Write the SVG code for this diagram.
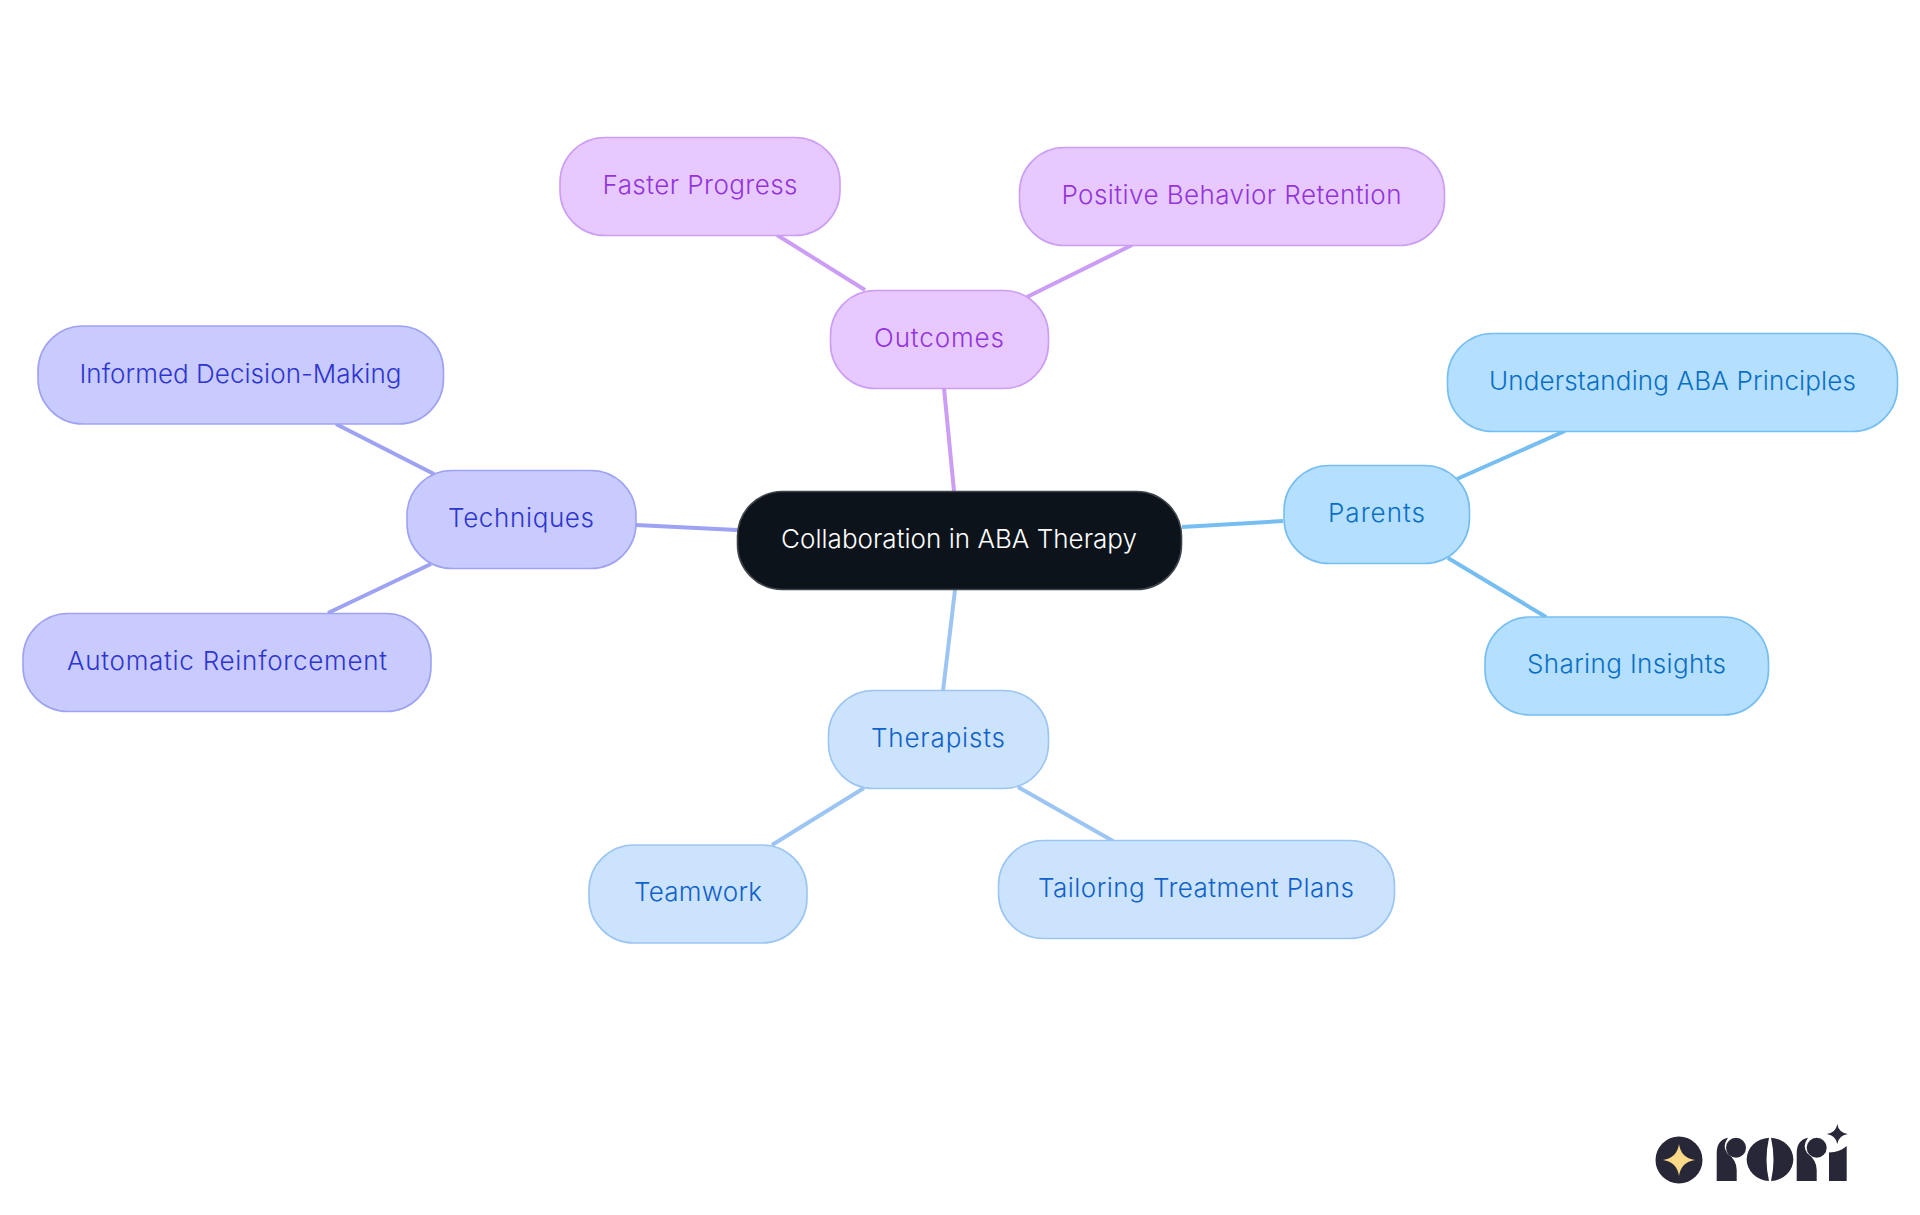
<svg xmlns="http://www.w3.org/2000/svg" width="1920" height="1215" viewBox="0 0 1920 1215">
<style>
text{font-family:"Inter","Liberation Sans",sans-serif;font-size:26px;font-weight:350;text-anchor:middle}
.c{fill:none;stroke-width:4}
rect.n{stroke-width:1.600}
rect.pu{fill:#e8c9ff;stroke:#cb9df5}text.pu{fill:#9333dc}
rect.bl{fill:#b4dfff;stroke:#76bef2}text.bl{fill:#0a6fc4}
rect.lb{fill:#cce3fd;stroke:#9cc5f3}text.lb{fill:#0f62c9}
rect.in{fill:#c9cbff;stroke:#9ea2f3}text.in{fill:#2e35d0}
</style>
<rect width="1920" height="1215" fill="#fff"/>
<g id="connectors">
<path class="c" stroke="#cb9df5" d="M954 491L944 388M865 290L777 235M1027 297L1132 245"/>
<path class="c" stroke="#76bef2" d="M1182 527L1283 521M1457 479L1565 431M1448 558L1546 617"/>
<path class="c" stroke="#9cc5f3" d="M955 590L943 691M864 788L772 845M1018 787L1113 841"/>
<path class="c" stroke="#9ea2f3" d="M737 530L636 525M434 474L336 424M431 564L328 613"/>
</g>
<g id="center"><rect x="737.500" y="491.500" width="444" height="98" rx="45" fill="#0c131b" stroke="#3f444a" stroke-width="1.600"/><text x="959" y="548" fill="#fff" textLength="356">Collaboration in ABA Therapy</text></g>
<g id="outcomes"><rect class="n pu" x="830.500" y="290.500" width="218" height="98" rx="45"/><text class="pu" x="939" y="346.500" textLength="130">Outcomes</text></g>
<g id="faster"><rect class="n pu" x="560" y="137.500" width="280" height="98" rx="45"/><text class="pu" x="700" y="193.500" textLength="195">Faster Progress</text></g>
<g id="positive"><rect class="n pu" x="1019.500" y="147.500" width="425" height="98" rx="45"/><text class="pu" x="1231.500" y="204" textLength="340">Positive Behavior Retention</text></g>
<g id="parents"><rect class="n bl" x="1284" y="465.500" width="185.500" height="98" rx="45"/><text class="bl" x="1376.500" y="522" textLength="97">Parents</text></g>
<g id="understanding"><rect class="n bl" x="1447.500" y="333.500" width="450" height="98" rx="45"/><text class="bl" x="1672.500" y="390" textLength="367">Understanding ABA Principles</text></g>
<g id="sharing"><rect class="n bl" x="1485" y="617" width="283.500" height="98" rx="45"/><text class="bl" x="1626.500" y="672.500" textLength="199">Sharing Insights</text></g>
<g id="therapists"><rect class="n lb" x="828.500" y="690.500" width="220" height="98" rx="45"/><text class="lb" x="938" y="747" textLength="134">Therapists</text></g>
<g id="teamwork"><rect class="n lb" x="589" y="845" width="218" height="98" rx="45"/><text class="lb" x="698" y="901" textLength="128">Teamwork</text></g>
<g id="tailoring"><rect class="n lb" x="998.500" y="840.500" width="396" height="98" rx="45"/><text class="lb" x="1196" y="897" textLength="316">Tailoring Treatment Plans</text></g>
<g id="techniques"><rect class="n in" x="407" y="470.500" width="229" height="98" rx="45"/><text class="in" x="521" y="527" textLength="146">Techniques</text></g>
<g id="informed"><rect class="n in" x="38" y="326" width="405.500" height="98" rx="45"/><text class="in" x="240.500" y="383" textLength="322">Informed Decision-Making</text></g>
<g id="automatic"><rect class="n in" x="23" y="613.500" width="408" height="98" rx="45"/><text class="in" x="227" y="669.500" textLength="320">Automatic Reinforcement</text></g>
<g id="logo" fill="#282737">
<circle cx="1679" cy="1160" r="23.500"/>
<path fill="#ffd98a" d="M1679 1144Q1681 1158 1695 1160Q1681 1162 1679 1176Q1677 1162 1663 1160Q1677 1158 1679 1144Z"/>
<path d="M1716.700 1181V1153Q1716.700 1140 1728 1137.700Q1722 1146 1727 1153Q1736.700 1160 1736.700 1170V1181Z"/><circle cx="1736" cy="1147.700" r="10"/>
<path d="M1769 1137.700A24 21.700 0 0 0 1769 1181Q1764 1160 1769 1137.700ZM1771 1137.700Q1776 1160 1771 1181A24 21.700 0 0 0 1771 1137.700Z"/>
<path d="M1796.700 1181V1153Q1796.700 1140 1808 1137.700Q1802 1146 1807 1153Q1816.700 1160 1816.700 1170V1181Z"/><circle cx="1816.700" cy="1147.700" r="10"/>
<path d="M1829 1181V1152.500Q1840 1152 1846.700 1146V1181Z"/>
<path d="M1837.300 1124Q1838.500 1132.500 1847.800 1134Q1838.500 1135.500 1837.300 1144Q1836 1135.500 1826.800 1134Q1836 1132.500 1837.300 1124Z"/>
</g>
</svg>
